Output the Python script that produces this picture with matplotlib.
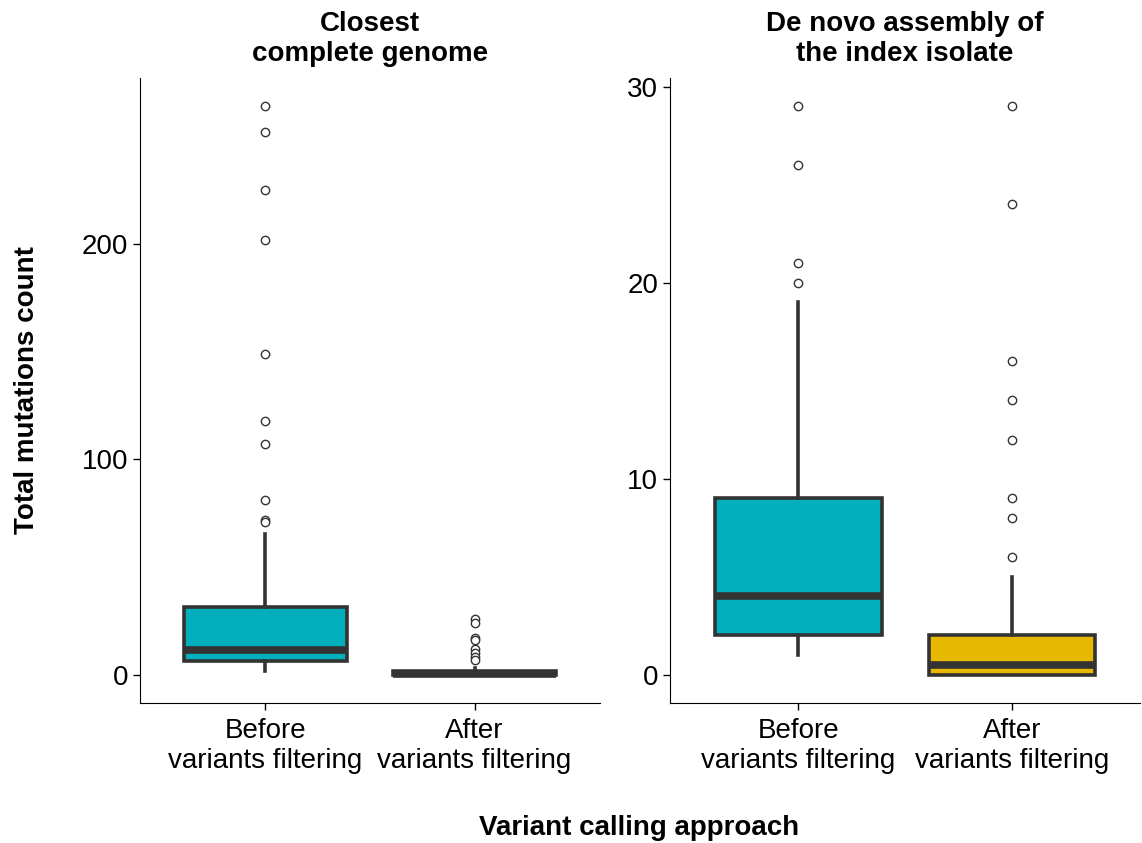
import matplotlib.pyplot as plt

plt.rcParams['font.family'] = ['Liberation Sans', 'DejaVu Sans']

groups = ['Before\nvariants filtering', 'After\nvariants filtering']
titles = ['Closest\ncomplete genome', 'De novo assembly of\nthe index isolate']
fills = [['#00AFBB', '#E7B800'], ['#00AFBB', '#E7B800']]

# box stats: whislo, q1, med, q3, whishi, outliers
closest_before = [1.5, 6.5, 11.5, 31.5, 65.5]
closest_before_out = [264, 252, 225, 202, 149, 118, 107, 81, 72, 71]
closest_after = [0, 0, 0.5, 1.5, 3]
closest_after_out = [26, 24, 17, 16, 12, 10, 8, 7]

denovo_before = [1, 2, 4, 9, 19]
denovo_before_out = [29, 26, 21, 20]
denovo_after = [0, 0, 0.5, 2, 5]
denovo_after_out = [29, 24, 16, 14, 12, 9, 8, 6]

panels = [
    [(closest_before, closest_before_out), (closest_after, closest_after_out)],
    [(denovo_before, denovo_before_out), (denovo_after, denovo_after_out)],
]
ylims = [(-13.2, 277.2), (-1.45, 30.45)]
yticks = [[0, 100, 200], [0, 10, 20, 30]]

fig = plt.figure(figsize=(11.42, 8.43), dpi=100)
axes = [fig.add_axes([0.1226, 0.166, 0.4028, 0.7414]),
        fig.add_axes([0.5867, 0.166, 0.4116, 0.7414])]

dark = '#333333'
for i, ax in enumerate(axes):
    stats = []
    for (s, out), g in zip(panels[i], groups):
        stats.append(dict(whislo=s[0], q1=s[1], med=s[2], q3=s[3], whishi=s[4],
                          fliers=out, label=g))
    bp = ax.bxp(stats, positions=[1, 2], widths=0.78, patch_artist=True,
                showcaps=False,
                boxprops=dict(edgecolor=dark, linewidth=2.6),
                whiskerprops=dict(color=dark, linewidth=2.6),
                medianprops=dict(color=dark, linewidth=5.5, solid_capstyle='butt'),
                flierprops=dict(marker='o', markerfacecolor='white',
                                markeredgecolor=dark, markersize=6,
                                markeredgewidth=1.0))
    for patch, c in zip(bp['boxes'], fills[i]):
        patch.set_facecolor(c)
    ax.set_xlim(0.4, 2.6)
    ax.set_ylim(*ylims[i])
    ax.set_yticks(yticks[i])
    ax.spines['top'].set_visible(False)
    ax.spines['right'].set_visible(False)
    ax.tick_params(labelsize=20, colors='black', length=5, width=1)
    ax.tick_params(axis='x', pad=6)
    ax.set_title(titles[i], fontsize=20, fontweight='bold', pad=12, linespacing=1.2)

axes[0].set_ylabel('Total mutations count', fontsize=20, fontweight='bold', labelpad=30)
fig.text(0.56, 0.002, 'Variant calling approach', fontsize=20, fontweight='bold',
         ha='center', va='bottom')

fig.savefig('out.png', dpi=100)
